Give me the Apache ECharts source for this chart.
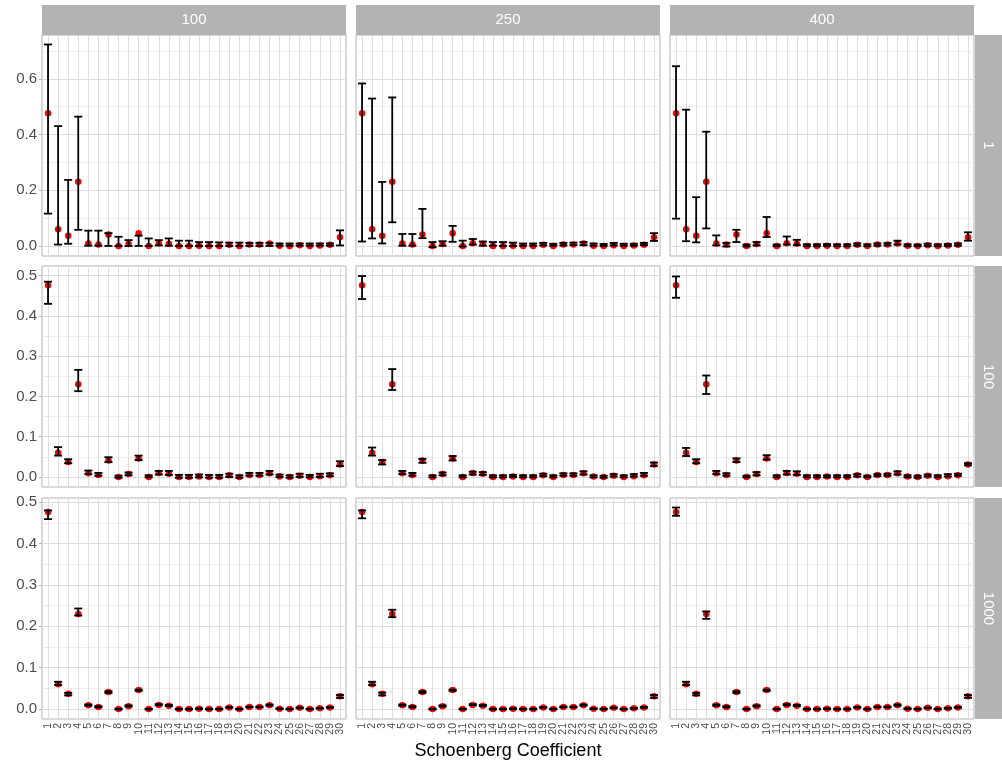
<!DOCTYPE html>
<html>
<head>
<meta charset="utf-8">
<script src="https://cdn.jsdelivr.net/npm/echarts@6/dist/echarts.min.js"></script>
<style>
  html, body { margin: 0; padding: 0; background: #ffffff; }
  #chart { width: 1002px; height: 765px; }
</style>
</head>
<body>
<div id="chart"></div>
<script>
// Schoenberg coefficient index (x categories)
const coefficients = [1, 2, 3, 4, 5, 6, 7, 8, 9, 10, 11, 12, 13, 14, 15,
  16, 17, 18, 19, 20, 21, 22, 23, 24, 25, 26, 27, 28, 29, 30];

// facet levels: columns (top strips) and rows (right strips)
const facetCols = ['100', '250', '400'];
const facetRows = ['1', '100', '1000'];

// y tick labels per facet row
const yTicksRow1 = [0, 0.2, 0.4, 0.6];
const yTicksRows23 = [0, 0.1, 0.2, 0.3, 0.4, 0.5];

// true coefficient values (red points), shared by all panels
const trueValue = [0.476, 0.060, 0.037, 0.230, 0.009, 0.005, 0.041, 0.000, 0.007, 0.046,
  0.000, 0.010, 0.008, 0.000, 0.000, 0.001, 0.000, 0.000, 0.004, 0.000,
  0.005, 0.005, 0.009, 0.001, 0.000, 0.003, 0.000, 0.002, 0.004, 0.031];

// interval bounds, row "1"
const lower_1_100 = [0.116, 0.005, 0.008, 0.058, 0.001, 0.001, 0.000, 0.000, 0.000, 0.000,
  0.000, 0.002, 0.001, 0.000, 0.000, 0.000, 0.000, 0.000, 0.000, 0.000,
  0.000, 0.000, 0.000, 0.001, 0.001, 0.001, 0.001, 0.001, 0.001, 0.002];
const upper_1_100 = [0.723, 0.430, 0.237, 0.464, 0.055, 0.055, 0.046, 0.033, 0.021, 0.037,
  0.027, 0.021, 0.027, 0.019, 0.019, 0.014, 0.014, 0.013, 0.012, 0.012,
  0.011, 0.011, 0.011, 0.009, 0.009, 0.009, 0.009, 0.009, 0.009, 0.056];
const lower_1_250 = [0.016, 0.027, 0.009, 0.085, 0.001, 0.001, 0.028, -0.004, 0.001, 0.015,
  -0.002, 0.005, 0.001, 0.001, 0.000, 0.000, 0.001, 0.001, 0.002, 0.001,
  0.002, 0.003, 0.003, 0.001, 0.000, 0.002, 0.001, 0.001, 0.003, 0.018];
const upper_1_250 = [0.583, 0.529, 0.230, 0.533, 0.043, 0.043, 0.133, 0.014, 0.017, 0.072,
  0.019, 0.025, 0.016, 0.014, 0.014, 0.012, 0.009, 0.009, 0.011, 0.008,
  0.011, 0.012, 0.014, 0.009, 0.007, 0.011, 0.008, 0.008, 0.011, 0.046];
const lower_1_400 = [0.098, 0.017, 0.013, 0.063, 0.002, -0.002, 0.014, -0.002, 0.002, 0.032,
  -0.001, 0.005, 0.003, -0.001, -0.001, 0.000, -0.001, -0.001, 0.001, -0.001,
  0.001, 0.002, 0.005, -0.001, -0.001, 0.000, -0.001, 0.000, 0.001, 0.019];
const upper_1_400 = [0.645, 0.489, 0.175, 0.410, 0.038, 0.011, 0.058, 0.005, 0.014, 0.104,
  0.005, 0.034, 0.022, 0.006, 0.006, 0.007, 0.006, 0.006, 0.009, 0.006,
  0.009, 0.010, 0.019, 0.006, 0.005, 0.008, 0.006, 0.007, 0.009, 0.049];

// interval bounds, row "100"
const lower_100_100 = [0.430, 0.053, 0.034, 0.213, 0.007, 0.003, 0.037, -0.002, 0.004, 0.042,
  -0.001, 0.006, 0.005, -0.002, -0.002, -0.001, -0.002, -0.002, 0.000, -0.002,
  0.003, 0.003, 0.006, 0.000, -0.002, 0.000, -0.001, 0.000, 0.002, 0.027];
const upper_100_100 = [0.485, 0.074, 0.044, 0.266, 0.016, 0.010, 0.049, 0.003, 0.011, 0.053,
  0.004, 0.015, 0.015, 0.005, 0.005, 0.006, 0.005, 0.005, 0.008, 0.004,
  0.010, 0.010, 0.015, 0.006, 0.004, 0.008, 0.005, 0.008, 0.009, 0.039];
const lower_100_250 = [0.442, 0.053, 0.031, 0.216, 0.007, 0.003, 0.035, -0.001, 0.004, 0.041,
  -0.001, 0.006, 0.005, -0.001, -0.001, 0.000, -0.001, -0.001, 0.002, -0.001,
  0.003, 0.003, 0.006, -0.001, -0.002, 0.001, -0.001, 0.001, 0.003, 0.027];
const upper_100_250 = [0.499, 0.073, 0.042, 0.268, 0.015, 0.010, 0.045, 0.004, 0.011, 0.052,
  0.004, 0.013, 0.012, 0.004, 0.004, 0.005, 0.004, 0.004, 0.008, 0.004,
  0.009, 0.009, 0.014, 0.004, 0.003, 0.007, 0.004, 0.007, 0.010, 0.036];
const lower_100_400 = [0.445, 0.052, 0.034, 0.206, 0.007, 0.003, 0.037, -0.001, 0.004, 0.043,
  -0.001, 0.006, 0.005, -0.001, -0.001, -0.001, -0.001, -0.001, 0.001, -0.001,
  0.002, 0.003, 0.006, -0.001, -0.002, 0.001, -0.001, 0.001, 0.003, 0.029];
const upper_100_400 = [0.498, 0.072, 0.044, 0.252, 0.015, 0.009, 0.046, 0.003, 0.012, 0.054,
  0.004, 0.015, 0.014, 0.004, 0.004, 0.004, 0.004, 0.004, 0.007, 0.003,
  0.007, 0.008, 0.014, 0.004, 0.003, 0.006, 0.004, 0.007, 0.008, 0.034];

// interval bounds, row "1000"
const lower_1000_100 = [0.459, 0.058, 0.033, 0.226, 0.008, 0.004, 0.039, -0.001, 0.006, 0.044,
  -0.001, 0.009, 0.007, -0.001, -0.001, 0.000, -0.001, -0.001, 0.003, -0.001,
  0.004, 0.004, 0.008, 0.000, -0.001, 0.002, -0.001, 0.001, 0.003, 0.027];
const upper_1000_100 = [0.480, 0.066, 0.039, 0.243, 0.011, 0.007, 0.043, 0.001, 0.009, 0.047,
  0.001, 0.012, 0.010, 0.001, 0.001, 0.002, 0.001, 0.001, 0.005, 0.001,
  0.006, 0.006, 0.011, 0.002, 0.001, 0.004, 0.001, 0.003, 0.005, 0.034];
const lower_1000_250 = [0.461, 0.058, 0.033, 0.222, 0.008, 0.004, 0.039, -0.001, 0.006, 0.044,
  -0.001, 0.009, 0.007, -0.001, -0.001, 0.000, -0.001, -0.001, 0.003, -0.001,
  0.004, 0.004, 0.008, 0.000, -0.001, 0.002, -0.001, 0.001, 0.003, 0.027];
const upper_1000_250 = [0.480, 0.066, 0.040, 0.240, 0.011, 0.007, 0.043, 0.001, 0.009, 0.047,
  0.001, 0.012, 0.010, 0.001, 0.001, 0.002, 0.001, 0.001, 0.005, 0.001,
  0.006, 0.006, 0.011, 0.002, 0.001, 0.004, 0.001, 0.003, 0.005, 0.034];
const lower_1000_400 = [0.467, 0.058, 0.033, 0.218, 0.008, 0.004, 0.039, -0.001, 0.006, 0.044,
  -0.001, 0.009, 0.007, -0.001, -0.001, 0.000, -0.001, -0.001, 0.003, -0.001,
  0.004, 0.004, 0.008, 0.000, -0.001, 0.002, -0.001, 0.001, 0.003, 0.027];
const upper_1000_400 = [0.487, 0.066, 0.039, 0.236, 0.011, 0.007, 0.043, 0.001, 0.009, 0.047,
  0.001, 0.012, 0.010, 0.001, 0.001, 0.002, 0.001, 0.001, 0.005, 0.001,
  0.006, 0.006, 0.011, 0.002, 0.001, 0.004, 0.001, 0.003, 0.005, 0.034];

// ---- layout and styling ----
const FONT = '"Liberation Sans", Arial, Helvetica, sans-serif';
const colLeft = [42, 356, 670];
const rowTop = [35, 266, 498];
const panelW = 304;
const panelH = 221;
const stripSize = 30;
const rightStripW = 27;
const X_MIN = 0.4, X_MAX = 30.6;
const yLimits = [[-0.036, 0.757], [-0.025, 0.524], [-0.024, 0.510]];
const yTicksByRow = [yTicksRow1, yTicksRows23, yTicksRows23];
const CAP_WIDTH = 0.8;

// blank end slots so the min/max label rule drops those instead of 2 and 29
const xLabelSlots = [X_MIN + 0.05].concat(coefficients, [X_MAX - 0.05]);

const panels = [
  { row: 0, col: 0, lo: lower_1_100, hi: upper_1_100 },
  { row: 0, col: 1, lo: lower_1_250, hi: upper_1_250 },
  { row: 0, col: 2, lo: lower_1_400, hi: upper_1_400 },
  { row: 1, col: 0, lo: lower_100_100, hi: upper_100_100 },
  { row: 1, col: 1, lo: lower_100_250, hi: upper_100_250 },
  { row: 1, col: 2, lo: lower_100_400, hi: upper_100_400 },
  { row: 2, col: 0, lo: lower_1000_100, hi: upper_1000_100 },
  { row: 2, col: 1, lo: lower_1000_250, hi: upper_1000_250 },
  { row: 2, col: 2, lo: lower_1000_400, hi: upper_1000_400 }
];

function minorBetween(ticks, yMax) {
  const step = ticks[1] - ticks[0];
  const out = [];
  for (let i = 0; i < ticks.length; i++) {
    const m = +(ticks[i] + step / 2).toFixed(4);
    if (m < yMax) out.push(m);
  }
  return out;
}

function renderErrorBar(params, api) {
  const x = api.value(0);
  const lo = api.value(1);
  const hi = api.value(2);
  const top = api.coord([x, hi]);
  const bot = api.coord([x, lo]);
  const half = api.size([CAP_WIDTH, 0])[0] / 2;
  const style = { stroke: '#000000', lineWidth: 1.8, lineCap: 'butt' };
  return {
    type: 'group',
    children: [
      { type: 'line', shape: { x1: top[0], y1: top[1], x2: bot[0], y2: bot[1] }, style: style },
      { type: 'line', shape: { x1: top[0] - half, y1: top[1], x2: top[0] + half, y2: top[1] }, style: style },
      { type: 'line', shape: { x1: bot[0] - half, y1: bot[1], x2: bot[0] + half, y2: bot[1] }, style: style }
    ]
  };
}

const grid = [], xAxis = [], yAxis = [], series = [];

panels.forEach((p, k) => {
  const bottomRow = p.row === 2;
  const leftCol = p.col === 0;
  const ticks = yTicksByRow[p.row];
  const lim = yLimits[p.row];

  grid.push({
    left: colLeft[p.col], top: rowTop[p.row], width: panelW, height: panelH,
    show: true, backgroundColor: '#ffffff', borderColor: '#B3B3B3', borderWidth: 1
  });

  xAxis.push({
    type: 'value', gridIndex: k, min: X_MIN, max: X_MAX,
    axisLine: { show: false },
    splitLine: { show: false },
    axisTick: { show: bottomRow, customValues: coefficients, length: 3,
      lineStyle: { color: '#B3B3B3', width: 1 } },
    axisLabel: { show: bottomRow, customValues: xLabelSlots, rotate: 90, margin: 4,
      showMinLabel: false, showMaxLabel: false, hideOverlap: false,
      fontSize: 10.5, color: '#4D4D4D', fontFamily: FONT,
      formatter: v => (Number.isInteger(v) ? String(v) : ' ') }
  });

  yAxis.push({
    type: 'value', gridIndex: k, min: lim[0], max: lim[1],
    axisLine: { show: false },
    splitLine: { show: false },
    axisTick: { show: leftCol, customValues: ticks, length: 3,
      lineStyle: { color: '#B3B3B3', width: 1 } },
    axisLabel: { show: leftCol, customValues: ticks, margin: 5,
      showMinLabel: true, showMaxLabel: true,
      fontSize: 15, color: '#4D4D4D', fontFamily: FONT,
      formatter: v => Number(v).toFixed(1) }
  });

  const gridLineData = []
    .concat(minorBetween(ticks, lim[1]).map(v => ({ yAxis: v, lineStyle: { width: 0.6, color: '#E3E3E3' } })))
    .concat(ticks.map(v => ({ yAxis: v })))
    .concat(coefficients.map(c => ({ xAxis: c })));

  series.push({
    type: 'scatter', xAxisIndex: k, yAxisIndex: k, z: 2,
    symbol: 'circle', symbolSize: 6.5,
    itemStyle: { color: '#FF0000', opacity: 1 },
    silent: true,
    data: coefficients.map((c, i) => [c, trueValue[i]]),
    markLine: {
      z: 1, silent: true, symbol: 'none', animation: false,
      label: { show: false },
      emphasis: { disabled: true },
      lineStyle: { color: '#DEDEDE', width: 1, type: 'solid' },
      data: gridLineData
    }
  });

  series.push({
    type: 'custom', xAxisIndex: k, yAxisIndex: k, z: 3, silent: true,
    renderItem: renderErrorBar,
    encode: { x: 0, y: [1, 2] },
    data: coefficients.map((c, i) => [c, p.lo[i], p.hi[i]])
  });
});

// facet strips
const graphic = [];
facetCols.forEach((label, c) => {
  graphic.push({
    type: 'rect', left: colLeft[c], top: rowTop[0] - stripSize, z: 10,
    shape: { width: panelW, height: stripSize }, style: { fill: '#B3B3B3' }
  });
  graphic.push({
    type: 'text', x: colLeft[c] + panelW / 2, y: rowTop[0] - stripSize / 2, z: 11,
    style: { text: label, fill: '#ffffff', font: '15px ' + FONT, align: 'center', verticalAlign: 'middle' }
  });
});
facetRows.forEach((label, r) => {
  const x0 = colLeft[2] + panelW + 1;
  graphic.push({
    type: 'rect', left: x0, top: rowTop[r], z: 10,
    shape: { width: rightStripW, height: panelH }, style: { fill: '#B3B3B3' }
  });
  graphic.push({
    type: 'text', x: x0 + rightStripW / 2, y: rowTop[r] + panelH / 2, rotation: -Math.PI / 2, z: 11,
    style: { text: label, fill: '#ffffff', font: '15px ' + FONT, align: 'center', verticalAlign: 'middle' }
  });
});
graphic.push({
  type: 'text', x: colLeft[0] + (colLeft[2] + panelW - colLeft[0]) / 2, y: 751, z: 11,
  style: { text: 'Schoenberg Coefficient', fill: '#000000', font: '18px ' + FONT, align: 'center', verticalAlign: 'middle' }
});

const chart = echarts.init(document.getElementById('chart'), null, { renderer: 'canvas' });
chart.setOption({
  animation: false,
  backgroundColor: '#ffffff',
  grid: grid,
  xAxis: xAxis,
  yAxis: yAxis,
  series: series,
  graphic: graphic
});
</script>
</body>
</html>
